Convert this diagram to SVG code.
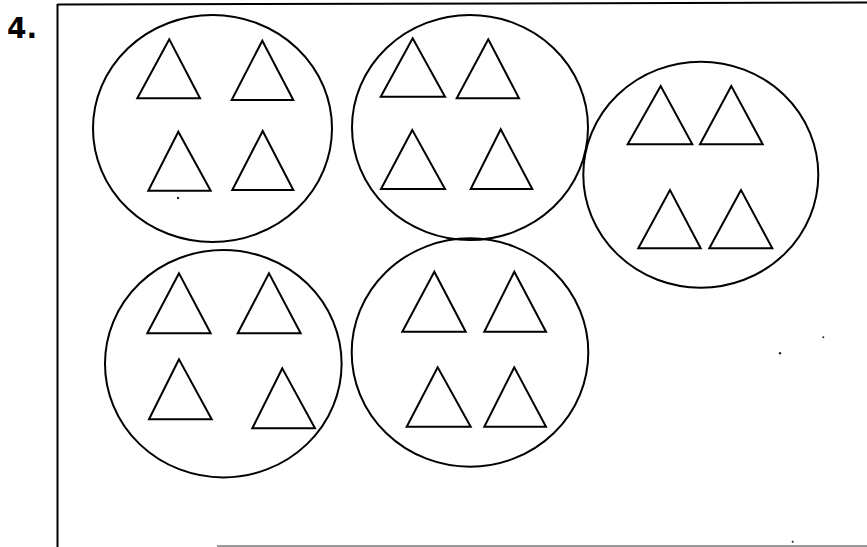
<svg xmlns="http://www.w3.org/2000/svg" width="867" height="547" viewBox="0 0 867 547">
<style>
.frame{stroke:#000;stroke-width:2;fill:none}
.c{stroke:#000;stroke-width:2;fill:none}
.t{stroke:#000;stroke-width:2;fill:none;stroke-linejoin:miter}
.lbl{font-family:"DejaVu Sans",sans-serif;font-weight:bold;font-size:28px;fill:#000}
.dot{fill:#222}
</style>
<rect width="867" height="547" fill="#fff"/>
<text class="lbl" x="7" y="38">4.</text>
<g id="frame">
<line class="frame" x1="57.5" y1="4.5" x2="867" y2="2.5"/>
<line class="frame" x1="57.5" y1="4" x2="57.5" y2="547"/>
<line x1="217" y1="546" x2="867" y2="546" stroke="#777" stroke-width="1.5"/>
</g>
<g id="group1">
<ellipse class="c" cx="212.5" cy="128.5" rx="119.5" ry="113.5"/>
<polygon class="t" points="169.3,39.3 137.3,98.3 200,98.3"/>
<polygon class="t" points="262.3,40.7 231.7,100 293.3,100"/>
<polygon class="t" points="178.3,131.7 148.3,190.7 210.7,190.7"/>
<polygon class="t" points="262.7,131 232.3,190 293.3,190"/>
<circle class="dot" cx="178" cy="198" r="1.2"/>
</g>
<g id="group2">
<ellipse class="c" cx="470" cy="127.5" rx="118" ry="112.5"/>
<polygon class="t" points="412.7,38.3 380.7,96.7 445,96.7"/>
<polygon class="t" points="488.3,39.3 456.7,98.3 519,98.3"/>
<polygon class="t" points="412.3,130 381,189 445,189"/>
<polygon class="t" points="500.7,129.3 470.7,189 532.3,189"/>
</g>
<g id="group3">
<ellipse class="c" cx="700.8" cy="174.7" rx="117.5" ry="113"/>
<polygon class="t" points="660.7,86 627.7,144.3 692.3,144.3"/>
<polygon class="t" points="731.3,86 700,144.3 762.7,144.3"/>
<polygon class="t" points="670,190 638.3,248.3 700.7,248.3"/>
<polygon class="t" points="741,190 709.3,248.3 772.3,248.3"/>
</g>
<g id="group4">
<ellipse class="c" cx="223.3" cy="363.7" rx="118.3" ry="113.7"/>
<polygon class="t" points="179,273.3 147.3,333.3 210.7,333.3"/>
<polygon class="t" points="269,273.3 237.7,333.3 300.7,333.3"/>
<polygon class="t" points="179,359.3 149,419.3 211.7,419.3"/>
<polygon class="t" points="282.3,368.3 252.3,428.3 315,428.3"/>
</g>
<g id="group5">
<ellipse class="c" cx="470" cy="352.5" rx="118.3" ry="114.2"/>
<polygon class="t" points="434.3,271.7 402.3,331.7 465.7,331.7"/>
<polygon class="t" points="514.3,271.7 484.3,331.7 546,331.7"/>
<polygon class="t" points="437.7,367.3 406.7,426.7 470.7,426.7"/>
<polygon class="t" points="514.3,367.3 484.3,426.7 546,426.7"/>
</g>
<g id="specks">
<circle class="dot" cx="823.3" cy="337.3" r="1"/>
<circle class="dot" cx="780" cy="353.3" r="1.2"/>
<circle class="dot" cx="792.7" cy="541.7" r="1"/>
</g>
</svg>
